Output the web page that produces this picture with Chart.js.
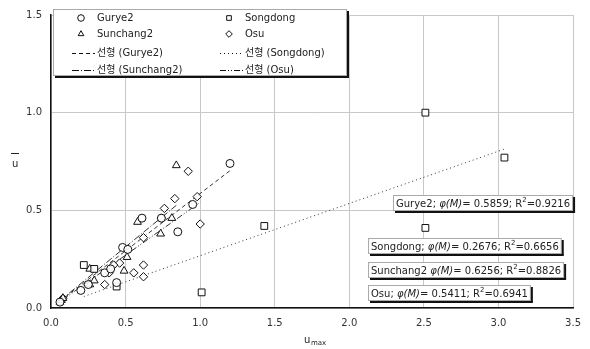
<!DOCTYPE html>
<html>
<head>
<meta charset="utf-8">
<script src="https://cdn.jsdelivr.net/npm/chart.js@4.4.1/dist/chart.umd.min.js"></script>
<style>
  html, body { margin: 0; padding: 0; background: #fff; }
  canvas { display: block; }
</style>
</head>
<body>
<canvas id="myChart" width="590" height="349"></canvas>
<script>
// station data (u_max, u-bar)
var gurye2X = [1.20, 0.95, 0.85, 0.74, 0.61, 0.48, 0.515, 0.36, 0.40, 0.44, 0.25, 0.20, 0.06];
var gurye2Y = [0.74, 0.53, 0.39, 0.46, 0.46, 0.31, 0.30, 0.18, 0.20, 0.13, 0.12, 0.09, 0.03];

var songdongX = [0.22, 0.29, 0.44, 1.01, 1.43, 2.51, 3.04, 2.51];
var songdongY = [0.22, 0.20, 0.11, 0.08, 0.42, 1.00, 0.77, 0.41];

var sunchang2X = [0.84, 0.58, 0.81, 0.735, 0.51, 0.49, 0.26, 0.29, 0.26, 0.06, 0.07, 0.08];
var sunchang2Y = [0.73, 0.44, 0.46, 0.38, 0.26, 0.19, 0.20, 0.14, 0.12, 0.03, 0.04, 0.05];

var osuX = [0.92, 0.98, 0.83, 0.76, 1.00, 0.62, 0.46, 0.42, 0.39, 0.62, 0.555, 0.62, 0.36, 0.74, 0.08];
var osuY = [0.70, 0.57, 0.56, 0.51, 0.43, 0.36, 0.23, 0.22, 0.18, 0.22, 0.18, 0.16, 0.12, 0.46, 0.05];

// trendline slopes (phi(M)) and R2 as printed
var stations = ['Gurye2', 'Songdong', 'Sunchang2', 'Osu'];
var phiM = [0.5859, 0.2676, 0.6256, 0.5411];
var rSq = [0.9216, 0.6656, 0.8826, 0.6941];

var xTicks = [0, 0.5, 1.0, 1.5, 2.0, 2.5, 3.0, 3.5];
var yTicks = [0, 0.5, 1.0, 1.5];

var FONT = '"DejaVu Sans", "Noto Sans CJK KR", sans-serif';

function pts(xs, ys) {
  var out = [];
  for (var i = 0; i < xs.length; i++) out.push({x: xs[i], y: ys[i]});
  return out;
}
function trend(xs, slope) {
  var lo = Math.min.apply(null, xs), hi = Math.max.apply(null, xs);
  return [{x: lo, y: slope * lo}, {x: hi, y: slope * hi}];
}

var allX = [gurye2X, songdongX, sunchang2X, osuX];
var allY = [gurye2Y, songdongY, sunchang2Y, osuY];
var markers = ['circle', 'rect', 'triangle', 'rectRot'];
var markerSize = [4, 4.8, 4.5, 4.2];
var dashes = [[4, 3], [1, 3], [7, 2, 1, 2], [6, 2, 1, 2, 1, 2]];

var datasets = [];
stations.forEach(function(name, i) {
  datasets.push({
    type: 'scatter',
    label: name,
    data: pts(allX[i], allY[i]),
    pointStyle: markers[i],
    pointRadius: markerSize[i],
    pointBackgroundColor: 'rgba(255,255,255,0.9)',
    pointBorderColor: '#111',
    pointBorderWidth: 1,
    showLine: false,
    order: 1
  });
});
stations.forEach(function(name, i) {
  datasets.push({
    type: 'line',
    label: '선형 (' + name + ')',
    data: trend(allX[i], phiM[i]),
    borderColor: '#333',
    borderWidth: 1,
    borderDash: dashes[i],
    pointRadius: 0,
    fill: false,
    order: 2
  });
});

function richParts(i) {
  var sep = stations[i] === 'Sunchang2' ? ' ' : '; ';
  return [
    {t: stations[i] + sep},
    {t: 'φ(M)', it: true},
    {t: '= ' + phiM[i].toFixed(4) + '; R'},
    {t: '2', sup: true},
    {t: '=' + rSq[i].toFixed(4)}
  ];
}

function shadowBox(ctx, x, y, w, h) {
  ctx.save();
  ctx.fillStyle = '#fff';
  ctx.fillRect(x, y, w, h);
  ctx.strokeStyle = '#aaa';
  ctx.lineWidth = 1;
  ctx.strokeRect(x + 0.5, y + 0.5, w, h);
  ctx.fillStyle = '#111';
  ctx.fillRect(x + w + 1, y + 2, 2, h);
  ctx.fillRect(x + 2, y + h + 1, w + 1, 2);
  ctx.restore();
}

var decorations = {
  id: 'decorations',
  afterDraw: function(chart) {
    var ctx = chart.ctx;
    var ca = chart.chartArea;

    // legend box
    shadowBox(ctx, 53, 9, 293, 66);
    var rows = [18, 34, 53, 70];
    var cols = [81, 229];
    ctx.save();
    ctx.font = '10px ' + FONT;
    ctx.textBaseline = 'middle';
    ctx.fillStyle = '#222';
    for (var k = 0; k < 8; k++) {
      var ds = chart.data.datasets[k];
      var r = Math.floor(k / 2), c = k % 2;
      var cx = cols[c], cy = rows[r];
      if (k < 4) {
        ctx.strokeStyle = '#111';
        ctx.fillStyle = '#fff';
        ctx.lineWidth = 1;
        Chart.helpers.drawPoint(ctx, {pointStyle: ds.pointStyle, radius: 3.3, rotation: 0, borderWidth: 1}, cx, cy);
        ctx.fillStyle = '#222';
        ctx.fillText(ds.label, cx + 16, cy);
      } else {
        ctx.strokeStyle = '#111';
        ctx.lineWidth = 1;
        ctx.setLineDash(ds.borderDash);
        ctx.beginPath();
        ctx.moveTo(cx - 9, cy + 0.5);
        ctx.lineTo(cx + 14, cy + 0.5);
        ctx.stroke();
        ctx.setLineDash([]);
        ctx.fillStyle = '#222';
        ctx.fillText(ds.label, cx + 16, cy);
      }
    }
    ctx.restore();

    // fit annotation boxes
    var boxPos = [[393, 195], [368, 238], [368, 262], [368, 285]];
    ctx.save();
    ctx.textBaseline = 'alphabetic';
    for (var i = 0; i < 4; i++) {
      var parts = richParts(i);
      var w = 0;
      parts.forEach(function(p) {
        ctx.font = (p.it ? 'italic ' : '') + (p.sup ? '7px ' : '10px ') + FONT;
        p.w = ctx.measureText(p.t).width;
        w += p.w;
      });
      var bx = boxPos[i][0], by = boxPos[i][1];
      shadowBox(ctx, bx, by, w + 5, 15);
      var tx = bx + 3, base = by + 12;
      ctx.fillStyle = '#222';
      parts.forEach(function(p) {
        ctx.font = (p.it ? 'italic ' : '') + (p.sup ? '7px ' : '10px ') + FONT;
        ctx.fillText(p.t, tx, p.sup ? base - 5 : base);
        tx += p.w;
      });
    }
    ctx.restore();

    // axis titles
    ctx.save();
    ctx.fillStyle = '#222';
    ctx.font = '10px ' + FONT;
    ctx.textBaseline = 'alphabetic';
    ctx.fillText('u', 12, 167);
    ctx.fillRect(11, 153, 8, 1);
    ctx.fillText('u', 304, 343);
    ctx.font = '7px ' + FONT;
    ctx.fillText('max', 311, 345);
    ctx.restore();
  }
};

var ctx = document.getElementById('myChart');
var myChart = new Chart(ctx, {
  type: 'scatter',
  data: { datasets: datasets },
  plugins: [decorations],
  options: {
    responsive: false,
    devicePixelRatio: 1,
    animation: false,
    layout: { padding: { left: 0, right: 12, top: 8, bottom: 0 } },
    plugins: {
      legend: { display: false },
      tooltip: { enabled: false }
    },
    scales: {
      x: {
        type: 'linear',
        min: 0, max: 3.5,
        afterFit: function(s) { s.height = 41; },
        afterBuildTicks: function(s) { s.ticks = xTicks.map(function(v) { return {value: v}; }); },
        ticks: {
          color: '#333',
          font: { family: FONT, size: 10 },
          padding: 9,
          callback: function(v) { return Number(v).toFixed(1); }
        },
        grid: { color: '#c8c8c8', drawTicks: false },
        border: { color: '#111', width: 1.5 }
      },
      y: {
        type: 'linear',
        min: 0, max: 1.5,
        afterFit: function(s) { s.width = 51; },
        afterBuildTicks: function(s) { s.ticks = yTicks.map(function(v) { return {value: v}; }); },
        ticks: {
          color: '#333',
          font: { family: FONT, size: 10 },
          padding: 9,
          callback: function(v) { return Number(v).toFixed(1); }
        },
        grid: { color: '#c8c8c8', drawTicks: false },
        border: { color: '#111', width: 1.5 }
      }
    }
  }
});
</script>
</body>
</html>
